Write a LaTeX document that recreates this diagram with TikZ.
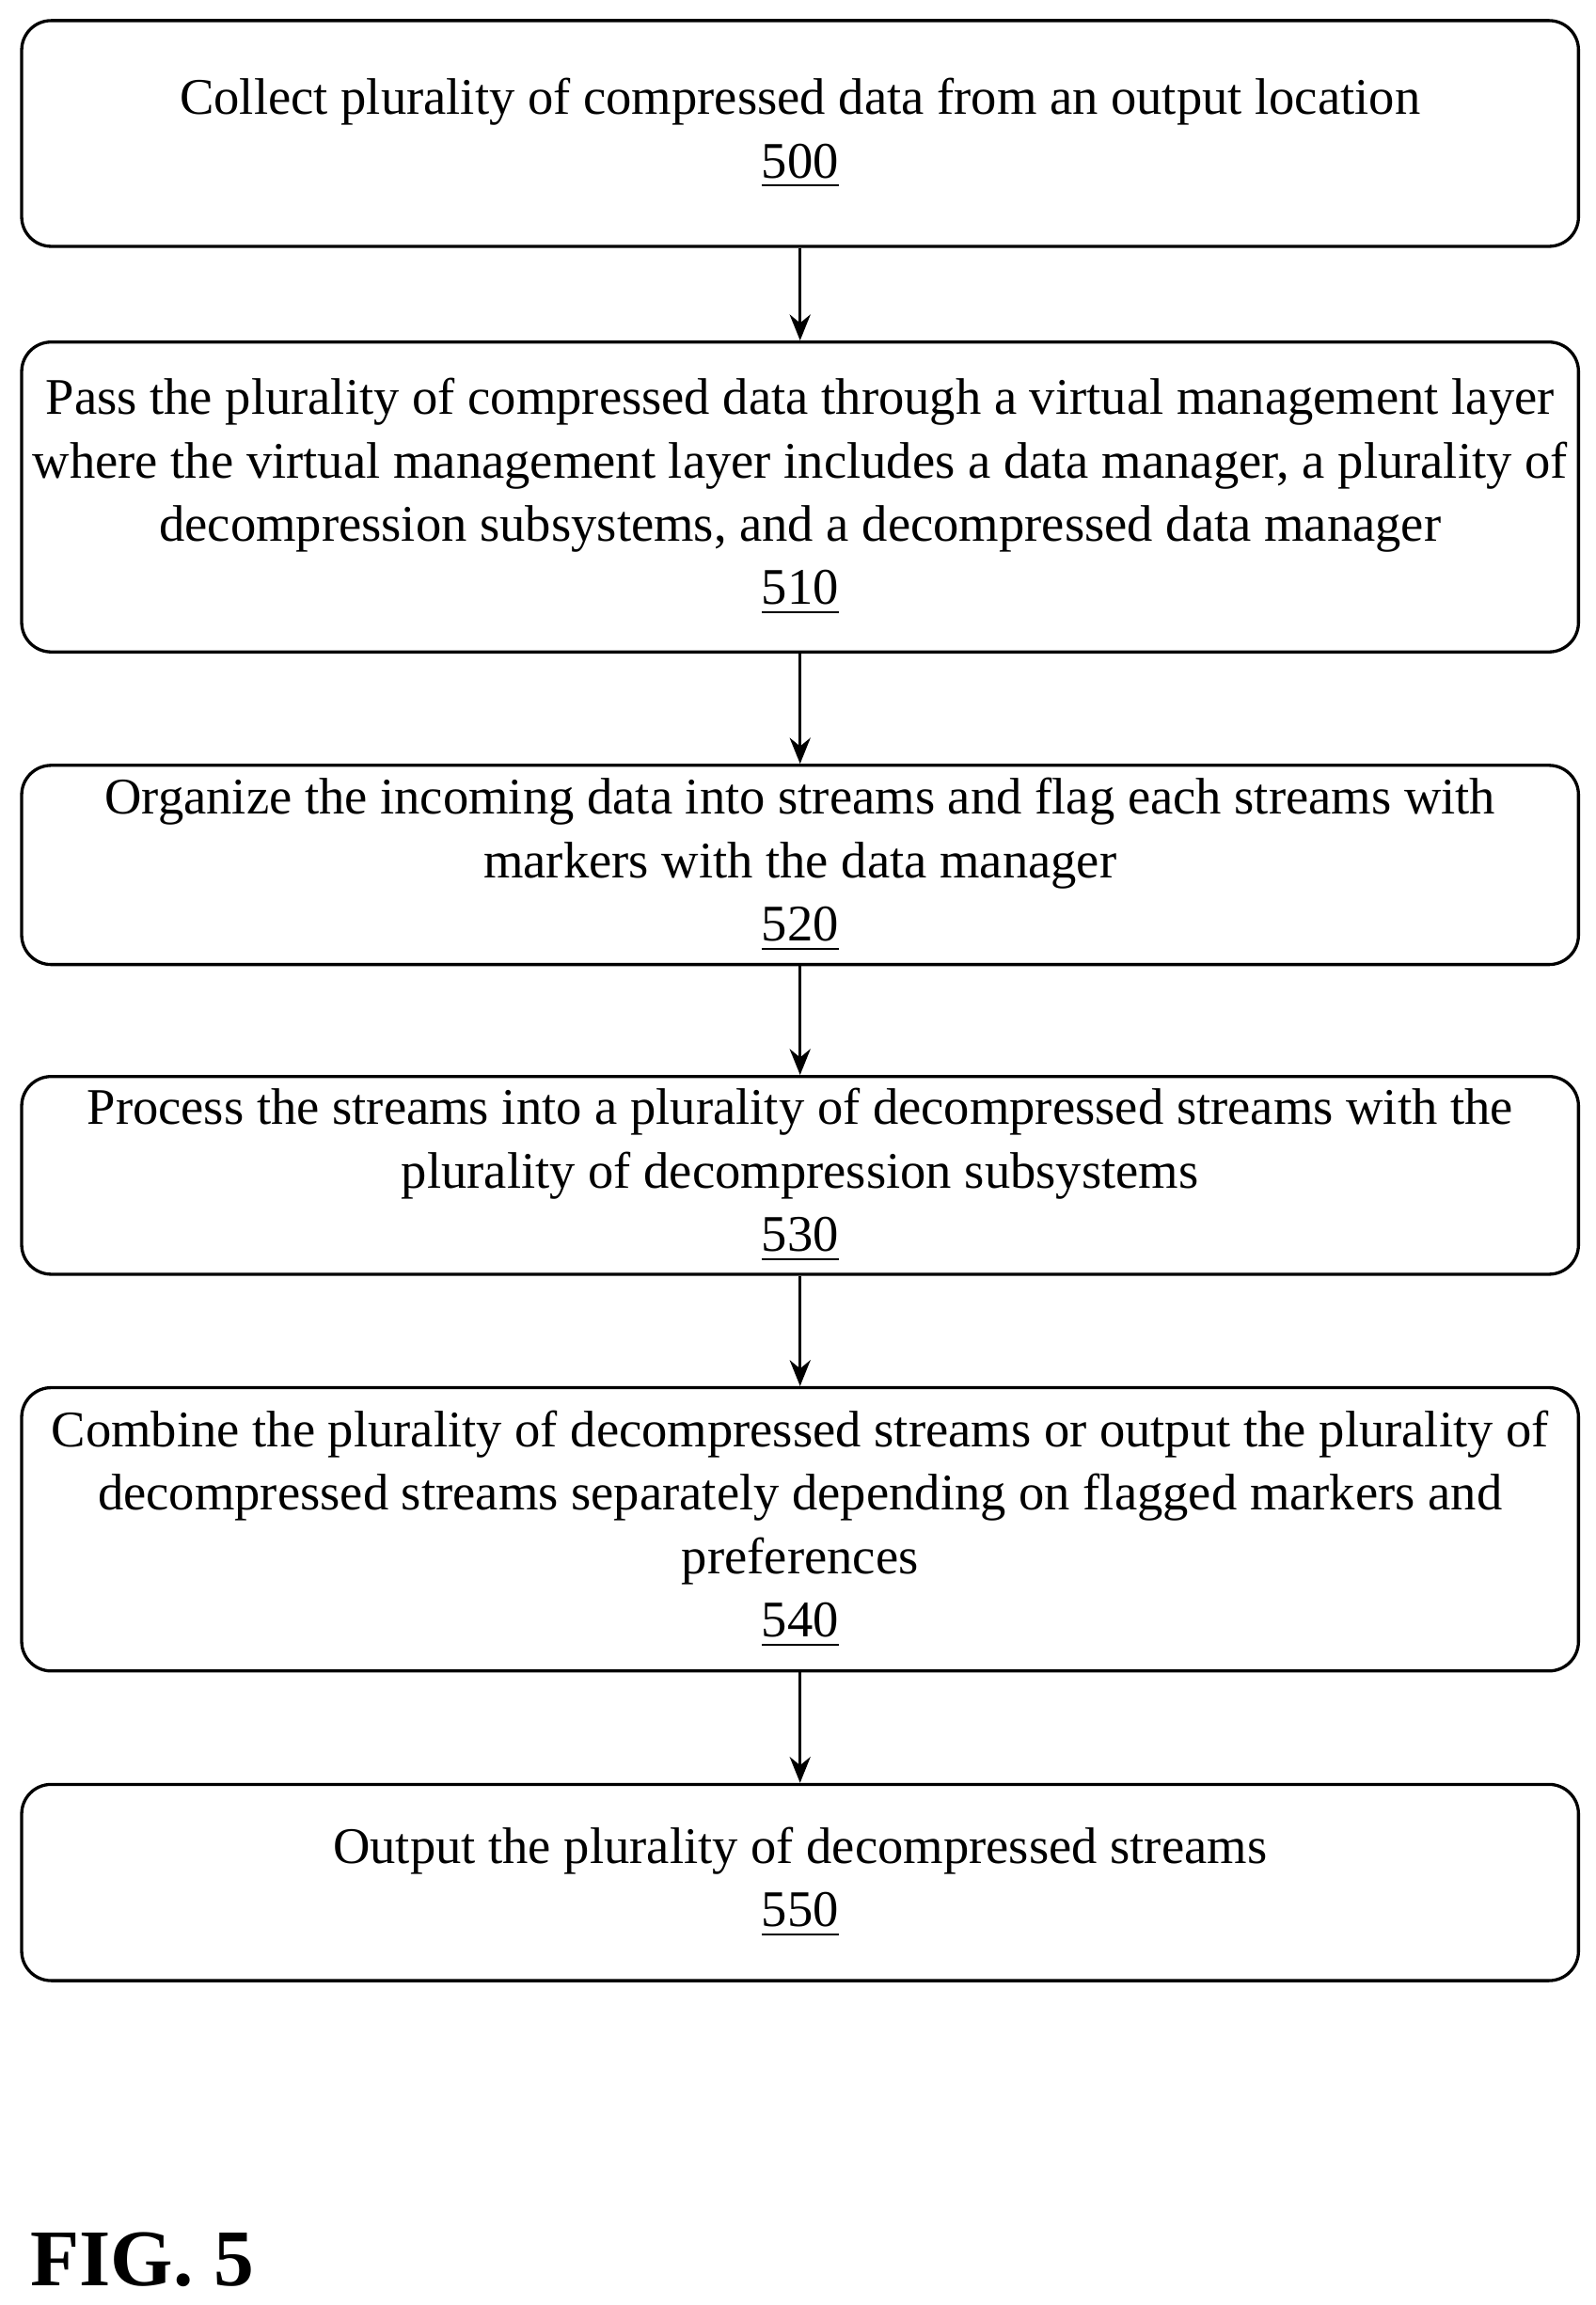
\documentclass[tikz,border=0pt]{standalone}
\usepackage{fontspec}
\setmainfont{Liberation Serif}
\usetikzlibrary{arrows.meta}
\begin{document}
\begin{tikzpicture}[x=0.01cm,y=-0.01cm,
 box/.style={draw,line width=0.6pt,rounded corners=0.2cm,minimum width=10.55cm,align=center,inner sep=0pt,font=\fontsize{9.9}{12.2}\selectfont},
 arr/.style={-{Stealth[length=5pt,width=4pt]},line width=0.6pt}]
\useasboundingbox (0,0) rectangle (1082,1563);
\node[box,minimum height=1.53cm] (a) at (542.5,90.5) {Collect plurality of compressed data from an output location\\\underline{500}};
\node[box,minimum height=2.10cm] (b) at (542.5,337) {Pass the plurality of compressed data through a virtual management layer\\where the virtual management layer includes a data manager, a plurality of\\decompression subsystems, and a decompressed data manager\\\underline{510}};
\node[box,minimum height=1.35cm] (c) at (542.5,586.5) {Organize the incoming data into streams and flag each streams with\\markers with the data manager\\\underline{520}};
\node[box,minimum height=1.34cm] (d) at (542.5,797) {Process the streams into a plurality of decompressed streams with the\\plurality of decompression subsystems\\\underline{530}};
\node[box,minimum height=1.92cm] (e) at (542.5,1037) {Combine the plurality of decompressed streams or output the plurality of\\decompressed streams separately depending on flagged markers and\\preferences\\\underline{540}};
\node[box,minimum height=1.33cm] (f) at (542.5,1276.5) {Output the plurality of decompressed streams\\\underline{550}};
\draw[arr] (a) -- (b); \draw[arr] (b) -- (c); \draw[arr] (c) -- (d);
\draw[arr] (d) -- (e); \draw[arr] (e) -- (f);
\node[anchor=west,inner sep=0pt,font=\bfseries\fontsize{15.5}{18}\selectfont] (fig) at (20,1532) {FIG. 5};
\end{tikzpicture}
\end{document}
